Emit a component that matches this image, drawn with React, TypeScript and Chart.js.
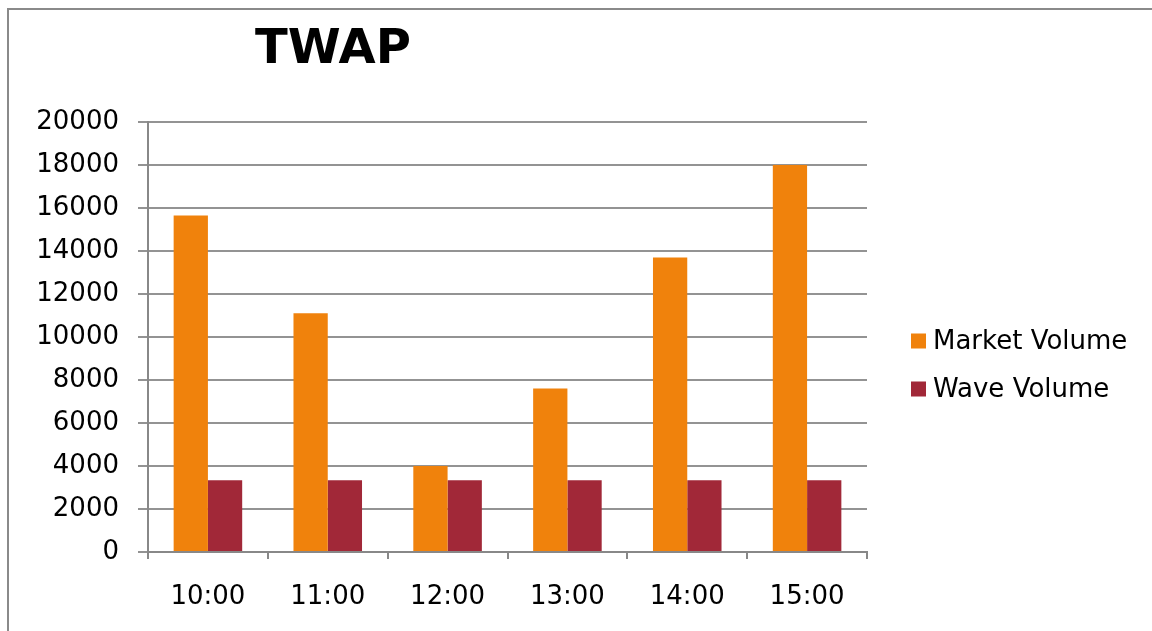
import React, { useEffect, useRef } from 'react';
import { Chart, registerables } from 'chart.js';

Chart.register(...registerables);

const chartTitle = 'TWAP';
const categories = ['10:00', '11:00', '12:00', '13:00', '14:00', '15:00'];
const marketVolume = [15650, 11100, 4000, 7600, 13700, 18000];
const waveVolume = [3333, 3333, 3333, 3333, 3333, 3333];
const seriesNames = ['Market Volume', 'Wave Volume'];
const seriesColors = ['#F0820C', '#A12838'];
const yMin = 0;
const yMax = 20000;
const yStep = 2000;

const FONT = '"DejaVu Sans", Verdana, sans-serif';
const FONT_SIZE = 26;

const titleLegendPlugin = {
  id: 'titleLegend',
  afterDraw(chart: any) {
    const { ctx, chartArea } = chart;
    ctx.save();
    ctx.fillStyle = '#000';
    ctx.font = `bold 48px ${FONT}`;
    ctx.textAlign = 'center';
    ctx.textBaseline = 'alphabetic';
    ctx.fillText(chartTitle, chartArea.left + 185, 63);

    ctx.font = `${FONT_SIZE}px ${FONT}`;
    ctx.textAlign = 'left';
    ctx.textBaseline = 'middle';
    const midY = (chartArea.top + chartArea.bottom) / 2;
    chart.data.datasets.forEach((ds: any, i: number) => {
      const y = midY + 4 + i * 48;
      const x = chartArea.right + 44;
      ctx.fillStyle = ds.backgroundColor;
      ctx.fillRect(x, y - 7.5, 15, 15);
      ctx.fillStyle = '#000';
      ctx.fillText(ds.label, x + 22, y + 1);
    });
    ctx.restore();
  },
};

export default function App() {
  const ref = useRef<HTMLCanvasElement | null>(null);

  useEffect(() => {
    if (!ref.current) return;
    const chart = new Chart(ref.current, {
      type: 'bar',
      data: {
        labels: categories,
        datasets: [
          {
            label: seriesNames[0],
            data: marketVolume,
            backgroundColor: seriesColors[0],
            categoryPercentage: 0.572,
            barPercentage: 1,
          },
          {
            label: seriesNames[1],
            data: waveVolume,
            backgroundColor: seriesColors[1],
            categoryPercentage: 0.572,
            barPercentage: 1,
          },
        ],
      },
      options: {
        responsive: false,
        animation: false,
        layout: { padding: { left: 36, right: 285, top: 122, bottom: 19 } },
        plugins: {
          legend: { display: false },
          title: { display: false },
          tooltip: { enabled: false },
        },
        scales: {
          x: {
            afterFit: (s: any) => {
              s.height = 60;
            },
            grid: {
              offset: true,
              drawOnChartArea: false,
              drawTicks: true,
              tickLength: 7,
              color: '#888',
              lineWidth: 2,
            },
            border: { display: true, color: '#888', width: 2 },
            ticks: {
              color: '#000',
              padding: 23,
              font: { family: FONT, size: FONT_SIZE },
            },
          },
          y: {
            min: yMin,
            max: yMax,
            afterFit: (s: any) => {
              s.width = 112;
            },
            ticks: {
              stepSize: yStep,
              color: '#000',
              padding: 19,
              font: { family: FONT, size: FONT_SIZE },
              callback: (v: any) => String(v),
            },
            grid: {
              color: '#939393',
              lineWidth: 2,
              drawTicks: true,
              tickLength: 10,
            },
            border: { display: true, color: '#888', width: 2 },
          },
        },
      },
      plugins: [titleLegendPlugin],
    });
    return () => chart.destroy();
  }, []);

  return (
    <div
      style={{
        position: 'fixed',
        left: 0,
        top: 0,
        width: 1152,
        height: 631,
        overflow: 'hidden',
        background: '#fff',
      }}
    >
      <div
        style={{
          position: 'absolute',
          left: 7,
          top: 8,
          width: 1200,
          height: 700,
          border: '2px solid #8a8a8a',
        }}
      />
      <canvas
        ref={ref}
        width={1152}
        height={631}
        style={{ position: 'absolute', left: 0, top: 0, width: 1152, height: 631 }}
      />
    </div>
  );
}
